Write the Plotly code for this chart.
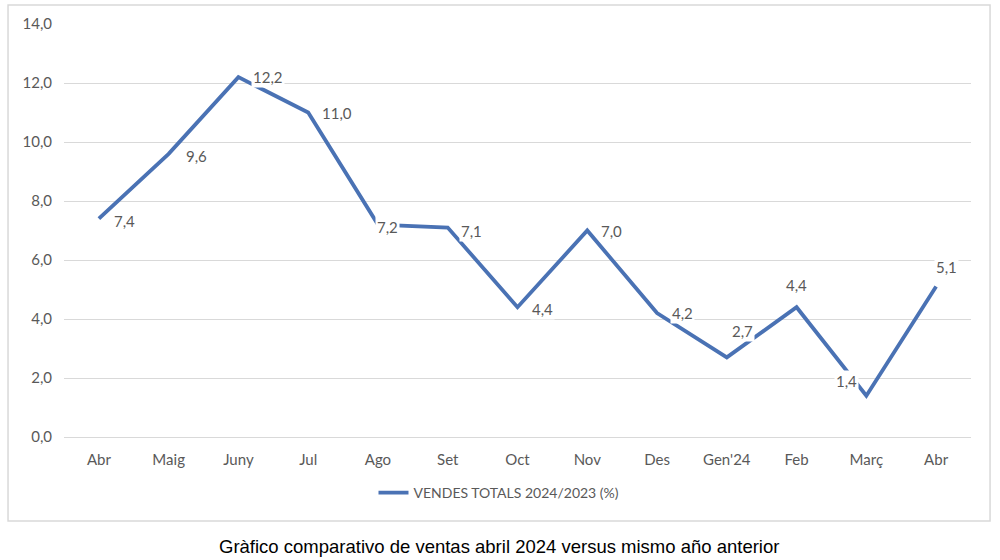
import plotly.graph_objects as go

months = ["Abr", "Maig", "Juny", "Jul", "Ago", "Set", "Oct", "Nov", "Des", "Gen'24", "Feb", "Març", "Abr"]
values = [7.4, 9.6, 12.2, 11.0, 7.2, 7.1, 4.4, 7.0, 4.2, 2.7, 4.4, 1.4, 5.1]
y_ticks = [0, 2, 4, 6, 8, 10, 12, 14]
series_name = "VENDES TOTALS 2024/2023 (%)"
caption = "Gràfico comparativo de ventas abril 2024 versus mismo año anterior"

# label offsets (px) relative to each point, as placed in the original
label_dx = [26, 28, 30, 29, 10, 24, 25, 24, 25, 16, 0, -20, 10]
label_dy = [-2, -2, 0, 0, -2, -3, -2, 0, 0, 26, 22, 15, 20]

xs = list(range(len(months)))
TXT = "#595959"
FONT = "Lato"

fig = go.Figure()
fig.add_trace(go.Scatter(
    x=xs, y=values, mode="lines", name=series_name,
    line=dict(color="#4a72b4", width=3.8),
    showlegend=True,
))

for i, v in enumerate(values):
    fig.add_annotation(
        x=xs[i], y=v, xref="x", yref="y",
        text=f"{v:.1f}".replace(".", ","),
        showarrow=False, xshift=label_dx[i], yshift=label_dy[i],
        bgcolor="white", borderpad=1,
        font=dict(family=FONT, size=15, color=TXT),
    )

fig.add_annotation(
    x=0.4796, y=-0.264, xref="paper", yref="paper", showarrow=False,
    text=caption, xanchor="center", yanchor="middle",
    font=dict(family="Liberation Sans, Arial", size=18.5, color="black"),
)

fig.add_shape(
    type="rect", xref="paper", yref="paper",
    x0=-0.0617, x1=1.021, y0=-0.2034, y1=1.046,
    line=dict(color="#d9d9d9", width=1.5), fillcolor="rgba(0,0,0,0)", layer="below",
)

fig.update_layout(
    width=1000, height=560,
    margin=dict(l=64, r=29, t=24, b=123),
    paper_bgcolor="white", plot_bgcolor="white",
    separators=",.",
    font=dict(family=FONT, color=TXT, size=15),
    xaxis=dict(
        range=[-0.5, len(months) - 0.5],
        tickmode="array", tickvals=xs, ticktext=months,
        showgrid=False, zeroline=False, showline=False,
        ticks="", ticklabelstandoff=12,
        tickfont=dict(family=FONT, size=15, color=TXT),
        fixedrange=True,
    ),
    yaxis=dict(
        range=[0, 14], tickmode="array", tickvals=y_ticks,
        tickformat=".1f",
        showgrid=True, gridcolor="#d9d9d9", gridwidth=1,
        zeroline=True, zerolinecolor="#d9d9d9", zerolinewidth=1,
        showline=False, ticks="", ticklabelstandoff=11,
        tickfont=dict(family=FONT, size=15, color=TXT),
        fixedrange=True,
    ),
    legend=dict(
        orientation="h", x=0.4796, xanchor="center", y=-0.1356, yanchor="middle",
        font=dict(family=FONT, size=14, color=TXT),
        bgcolor="rgba(0,0,0,0)",
    ),
    showlegend=True,
)

fig.write_html(
    "out.html",
    config={"displayModeBar": False},
    post_script="document.body.style.margin='0';document.body.style.overflow='hidden';",
)
